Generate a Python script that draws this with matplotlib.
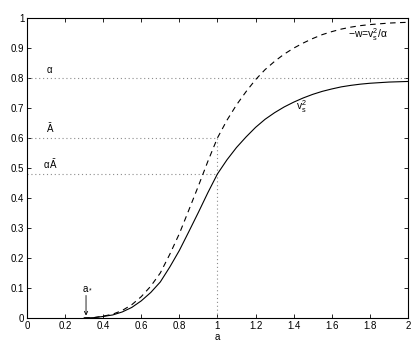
import matplotlib
matplotlib.use("Agg")
import matplotlib.pyplot as plt

plt.rcParams['font.family'] = ['Liberation Sans', 'DejaVu Sans']
plt.rcParams['mathtext.fontset'] = 'custom'
plt.rcParams['mathtext.rm'] = 'Liberation Sans'
plt.rcParams['mathtext.it'] = 'Liberation Sans'

a_vals = [0.30, 0.35, 0.40, 0.45, 0.50, 0.55, 0.60, 0.65, 0.70, 0.75, 0.80, 0.85,
          0.90, 0.95, 1.00, 1.05, 1.10, 1.15, 1.20, 1.25, 1.30, 1.35, 1.40, 1.45,
          1.50, 1.55, 1.60, 1.65, 1.70, 1.75, 1.80, 1.85, 1.90, 1.95, 2.00]
vs2 = [0.000, 0.001, 0.005, 0.010, 0.020, 0.035, 0.057, 0.085, 0.120, 0.170, 0.225, 0.288,
       0.352, 0.418, 0.480, 0.527, 0.568, 0.603, 0.635, 0.662, 0.684, 0.703, 0.719, 0.733,
       0.745, 0.755, 0.763, 0.770, 0.775, 0.779, 0.782, 0.784, 0.786, 0.787, 0.788]
minus_w = [0.000, 0.001, 0.006, 0.0125, 0.025, 0.044, 0.071, 0.106, 0.150, 0.2125, 0.281, 0.360,
           0.440, 0.5225, 0.600, 0.659, 0.710, 0.754, 0.794, 0.8275, 0.855, 0.879, 0.899, 0.916,
           0.931, 0.944, 0.954, 0.9625, 0.969, 0.974, 0.9775, 0.980, 0.9825, 0.984, 0.985]

alpha_level = 0.8
Abar_level = 0.6
alphaAbar_level = 0.48
a_one = 1.0
a_star = 0.31

xticks = [0, 0.2, 0.4, 0.6, 0.8, 1, 1.2, 1.4, 1.6, 1.8, 2]
xticklabels = ['0', '0.2', '0.4', '0.6', '0.8', '1', '1.2', '1.4', '1.6', '1.8', '2']
yticks = [0, 0.1, 0.2, 0.3, 0.4, 0.5, 0.6, 0.7, 0.8, 0.9, 1]
yticklabels = ['0', '0.1', '0.2', '0.3', '0.4', '0.5', '0.6', '0.7', '0.8', '0.9', '1']

fig = plt.figure(figsize=(4.15, 3.43), dpi=100)
ax = fig.add_axes([0.065, 0.073, 0.918, 0.875])

dot = dict(color='0.55', linestyle=(0, (1, 2.5)), linewidth=0.8)
ax.plot([0, 2], [alpha_level, alpha_level], **dot)
ax.plot([0, a_one], [Abar_level, Abar_level], **dot)
ax.plot([0, a_one], [alphaAbar_level, alphaAbar_level], **dot)
ax.plot([a_one, a_one], [0, Abar_level], **dot)

ax.plot(a_vals, vs2, color='black', linewidth=0.8)
ax.plot(a_vals, minus_w, color='black', linewidth=0.8, linestyle=(0, (5, 4)))

fs = 7
ax.text(0.10, 0.815, r'$\alpha$', fontsize=fs)
ax.text(0.10, 0.617, r'$\bar{\mathrm{A}}$', fontsize=fs)
ax.text(0.085, 0.495, r'$\alpha\,\bar{\mathrm{A}}$', fontsize=fs)
ax.text(0.29, 0.09, r'a$_*$', fontsize=fs)
ax.annotate('', xy=(a_star, 0.008), xytext=(a_star, 0.075),
            arrowprops=dict(arrowstyle='->', color='black', lw=0.6, shrinkA=0, shrinkB=0,
                            mutation_scale=6))
ax.text(1.41, 0.693, r'v$_\mathrm{s}^2$', fontsize=7.5)
ax.text(1.685, 0.933, r'$-$w=v$_\mathrm{s}^2$/$\alpha$', fontsize=7.5)

ax.set_xlim(0, 2)
ax.set_ylim(0, 1)
ax.set_xticks(xticks)
ax.set_xticklabels(xticklabels)
ax.set_yticks(yticks)
ax.set_yticklabels(yticklabels)
ax.tick_params(direction='in', top=True, right=True, labelsize=fs, length=3, width=0.6, pad=2)
for s in ax.spines.values():
    s.set_linewidth(0.8)
ax.set_xlabel('a', fontsize=fs, labelpad=1)

fig.savefig('out.png', dpi=100)
